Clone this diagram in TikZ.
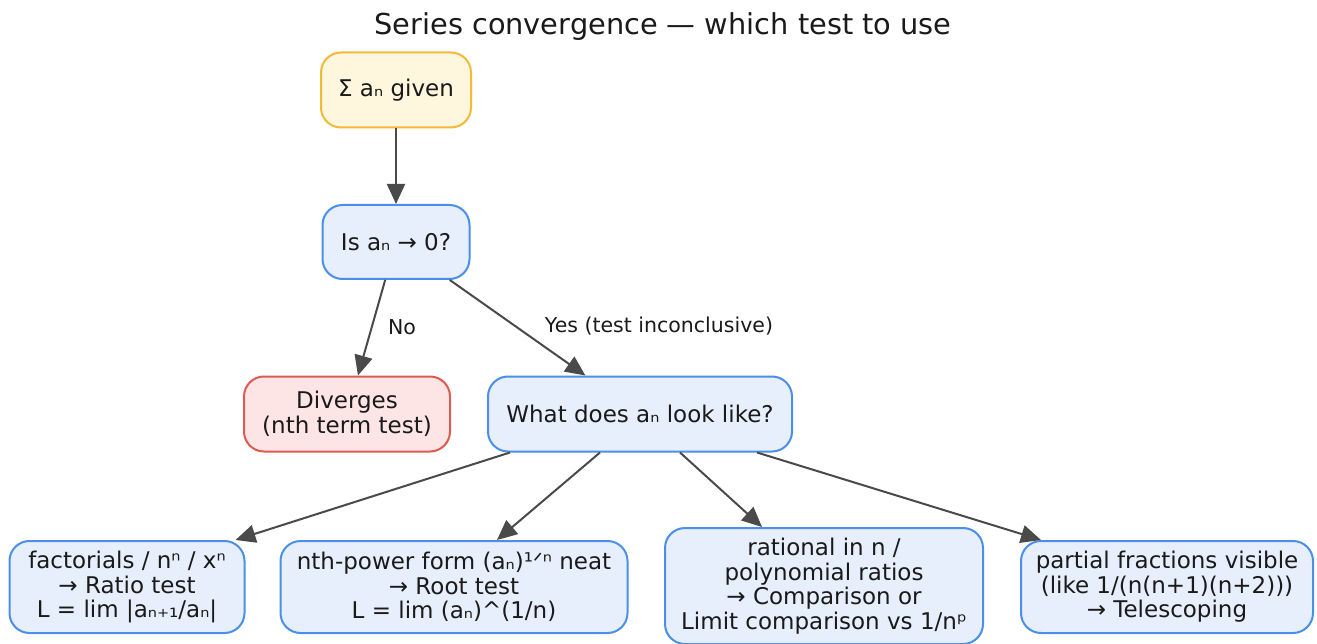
\documentclass[tikz,border=0pt]{standalone}
\usepackage{fontspec}
\setmainfont{DejaVu Sans}
\usetikzlibrary{arrows.meta}
\definecolor{edgegray}{HTML}{4A4A4A}
\definecolor{inkgray}{HTML}{1A1A1A}
\definecolor{bluefill}{HTML}{E7EFFC}
\definecolor{blueline}{HTML}{4A8FE8}
\definecolor{yellowfill}{HTML}{FFF6DE}
\definecolor{yellowline}{HTML}{F5B93A}
\definecolor{redfill}{HTML}{FCE5E4}
\definecolor{redline}{HTML}{DF5A50}
\tikzset{
  box/.style={draw=blueline, fill=bluefill, line width=2pt, rounded corners=20pt,
    align=center, inner sep=0pt, text=inkgray, font=\fontsize{23}{24.5}\selectfont},
  startbox/.style={box, draw=yellowline, fill=yellowfill},
  stopbox/.style={box, draw=redline, fill=redfill},
  flow/.style={draw=edgegray, line width=2pt, -{Triangle[length=20pt,width=18pt]}},
  edgelabel/.style={font=\fontsize{20.5}{22}\selectfont, inner sep=0pt, text=inkgray}
}
\begin{document}
\begin{tikzpicture}[x=1pt,y=-1pt]
\useasboundingbox[fill=white] (0,0) rectangle (1317,644);
\node[font=\fontsize{28.8}{32}\selectfont, text=inkgray] (title) at (663,27) {Series convergence — which test to use};

\node[startbox, minimum width=150pt, minimum height=75pt] (given) at (396,90) {Σ aₙ given};
\node[box, minimum width=147pt, minimum height=74pt] (zero) at (396,242) {Is aₙ → 0?};
\node[stopbox, minimum width=206pt, minimum height=75pt] (div) at (347,414) {Diverges\\(nth term test)};
\node[box, minimum width=304pt, minimum height=75pt] (look) at (640,414) {What does aₙ look like?};

\node[box, minimum width=235pt, minimum height=92pt] (ratio) at (127,587) {factorials / nⁿ / xⁿ\\→ Ratio test\\L = lim |aₙ₊₁/aₙ|};
\node[box, minimum width=347pt, minimum height=92pt] (root) at (454,587) {nth-power form (aₙ)¹ᐟⁿ neat\\→ Root test\\L = lim (aₙ)\^{}(1/n)};
\node[box, minimum width=318pt, minimum height=116pt] (comp) at (824,586) {rational in n /\\polynomial ratios\\→ Comparison or\\Limit comparison vs 1/nᵖ};
\node[box, minimum width=292pt, minimum height=92pt] (tele) at (1167,587) {partial fractions visible\\(like 1/(n(n+1)(n+2)))\\→ Telescoping};

\draw[flow] (given) -- (zero);
\draw[flow] (zero) -- (div);
\draw[flow] (zero) -- (look);
\draw[flow] ([xshift=-130pt]look.south) -- ([xshift=-10pt]ratio.north east);
\draw[flow] ([xshift=-40pt]look.south) -- ([xshift=43pt]root.north);
\draw[flow] ([xshift=40pt]look.south) -- ([xshift=-62pt]comp.north);
\draw[flow] ([xshift=117pt]look.south) -- ([xshift=-126pt]tele.north);

\node[edgelabel] (nolabel) at (402,327) {No};
\node[edgelabel] (yeslabel) at (659,326) {Yes (test inconclusive)};
\end{tikzpicture}
\end{document}
